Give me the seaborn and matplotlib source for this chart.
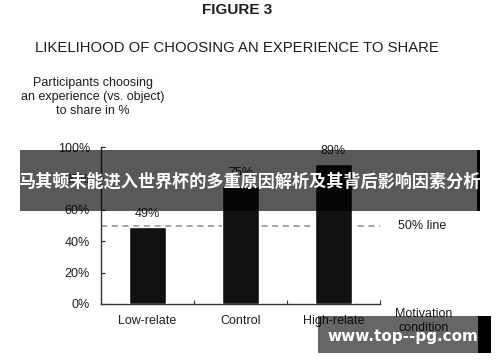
import matplotlib
matplotlib.use("Agg")
import matplotlib.pyplot as plt
from matplotlib.patches import Rectangle
import seaborn as sns

conditions = ["Low-relate", "Control", "High-relate"]
shares = [49, 75, 89]
threshold = 50
yticks = [0, 20, 40, 60, 80, 100]

sns.set_theme(style="white")
plt.rcParams["font.family"] = ["Liberation Sans", "Noto Sans CJK SC", "DejaVu Sans"]

W, H = 500, 362
fig = plt.figure(figsize=(W / 100, H / 100), dpi=100)


def fx(x):
    return x / W


def fy(y):
    return 1 - y / H


ink = "#1e1e1e"

# plot area
ax = fig.add_axes([fx(101), fy(304), fx(380) - fx(101), fy(147) - fy(304)])
sns.barplot(x=conditions, y=shares, width=0.4, color="#111111", saturation=1,
            ax=ax, zorder=3)
ax.set_xlim(-0.5, len(conditions) - 0.5)
ax.set_ylim(0, 100)
ax.set_yticks(yticks)
ax.set_yticklabels([f"{v}%" for v in yticks])
ax.set_xlabel("")
ax.set_ylabel("")

for c in ax.containers:
    ax.bar_label(c, labels=[f"{v}%" for v in shares], padding=5,
                 fontsize=9, color=ink)

ax.axhline(threshold, color="#8a8a8a", lw=1.1, ls=(0, (4, 3)), zorder=2)

sns.despine(ax=ax)
for s in ["left", "bottom"]:
    ax.spines[s].set_color("#333333")
    ax.spines[s].set_linewidth(1.0)

ax.tick_params(axis="y", direction="in", length=3, width=0.8, pad=8,
               labelsize=9, colors=ink, left=True)
ax.tick_params(axis="x", length=0, pad=8, labelsize=9, colors=ink)
ax.set_xticks([0.5, 1.5, 2.5], minor=True)
ax.tick_params(axis="x", which="minor", direction="in", length=3, width=0.8,
               bottom=True, color="#333333")
ax.grid(False)

# titles and labels
fig.text(fx(237), fy(10), "FIGURE 3", ha="center", va="center",
         fontsize=11, fontweight="bold", color=ink)
fig.text(fx(237), fy(48), "LIKELIHOOD OF CHOOSING AN EXPERIENCE TO SHARE",
         ha="center", va="center", fontsize=10.7, color=ink)
fig.text(fx(93), fy(97), "Participants choosing\nan experience (vs. object)\nto share in %",
         ha="center", va="center", fontsize=9, color=ink, linespacing=1.2)
fig.text(fx(398), fy(226), "50% line", ha="left", va="center",
         fontsize=9, color=ink)
fig.text(fx(424), fy(321), "Motivation\ncondition", ha="center", va="center",
         fontsize=9, color=ink, linespacing=1.15)

# banner overlay
fig.add_artist(Rectangle((fx(20), fy(211)), fx(457), 61 / H, transform=fig.transFigure,
                         facecolor="black", alpha=0.65, edgecolor="none", zorder=10))
fig.add_artist(Rectangle((fx(477), fy(211)), fx(3), 61 / H, transform=fig.transFigure,
                         facecolor="black", edgecolor="none", zorder=10))
fig.text(fx(249), fy(182), "马其顿未能进入世界杯的多重原因解析及其背后影响因素分析",
         ha="center", va="center", fontsize=12.3, fontweight="bold",
         color="white", family=["Noto Sans CJK SC", "DejaVu Sans"], zorder=11)

# watermark
fig.add_artist(Rectangle((fx(318), fy(353)), fx(160), 37 / H, transform=fig.transFigure,
                         facecolor="black", alpha=0.6, edgecolor="none", zorder=10))
fig.add_artist(Rectangle((fx(478), fy(353)), fx(13), 37 / H, transform=fig.transFigure,
                         facecolor="black", edgecolor="none", zorder=10))
fig.text(fx(403), fy(336), "www.top--pg.com", ha="center", va="center",
         fontsize=11, fontweight="bold", color="white",
         family=["DejaVu Sans"], zorder=11)

fig.savefig("out.png", dpi=100)
